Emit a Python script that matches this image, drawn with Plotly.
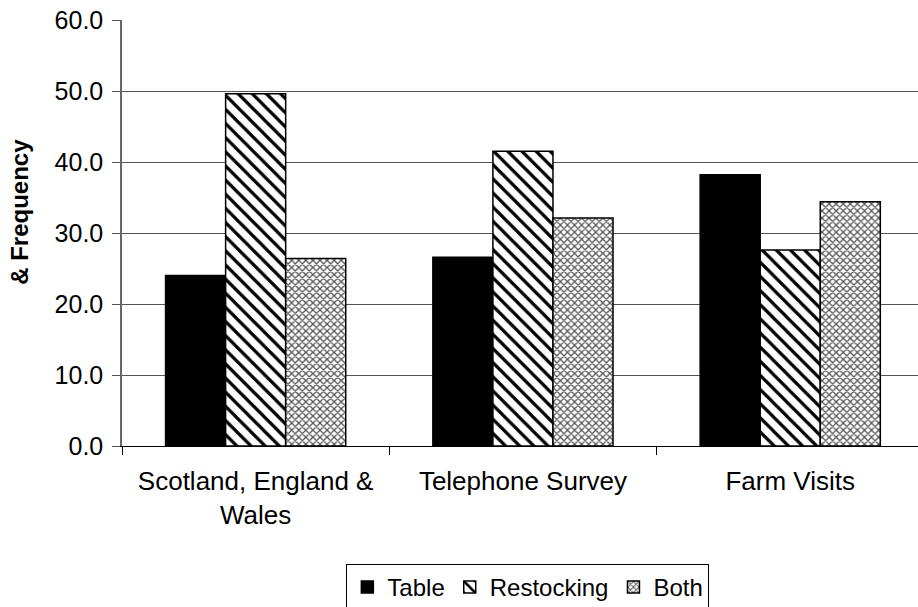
import plotly.graph_objects as go

# Survey source groups
categories = ["Scotland, England &<br>Wales", "Telephone Survey", "Farm Visits"]

# Frequency per purpose
table = [24.0, 26.6, 38.2]
restocking = [49.6, 41.5, 27.6]
both = [26.4, 32.1, 34.4]

y_ticks = [0, 10, 20, 30, 40, 50, 60]

FONT = "Arial, 'Liberation Sans', sans-serif"

fig = go.Figure()

fig.add_trace(go.Bar(
    name="Table", x=categories, y=table,
    marker=dict(color="black", line=dict(color="black", width=1.5)),
))
fig.add_trace(go.Bar(
    name="Restocking", x=categories, y=restocking,
    marker=dict(
        color="white",
        line=dict(color="black", width=1.5),
        pattern=dict(shape="\\", fgcolor="black", bgcolor="white",
                     size=10, solidity=0.32, fillmode="replace"),
    ),
))
fig.add_trace(go.Bar(
    name="Both", x=categories, y=both,
    marker=dict(
        color="white",
        line=dict(color="black", width=1.5),
        pattern=dict(shape="x", fgcolor="#555555", bgcolor="white",
                     size=5, solidity=0.45, fillmode="replace"),
    ),
))

fig.update_layout(
    width=918, height=607,
    margin=dict(l=122, r=0, t=20, b=161),
    paper_bgcolor="white", plot_bgcolor="white",
    font=dict(family=FONT, size=25, color="black"),
    barmode="group", bargap=0.326, bargroupgap=0,
    showlegend=True,
    legend=dict(
        orientation="h",
        xref="container", yref="container",
        x=0.575, xanchor="center", y=1 - 564 / 607, yanchor="top",
        bordercolor="black", borderwidth=1, bgcolor="white",
        font=dict(size=24), itemwidth=30, tracegroupgap=0,
    ),
    annotations=[dict(
        text="<b>& Frequency</b>", textangle=-90,
        xref="paper", yref="paper", x=-0.128, y=0.55,
        xanchor="center", yanchor="middle", showarrow=False,
        font=dict(size=24),
    )],
)

fig.update_xaxes(
    type="category", range=[-0.5, 2.478],
    showgrid=False, showline=True, linecolor="black", linewidth=1,
    ticks="outside", tickson="boundaries", ticklen=8, tickcolor="black",
    tickfont=dict(size=26), ticklabelstandoff=12,
)
fig.update_yaxes(
    range=[0, 60], tickvals=y_ticks, tickformat=".1f",
    showgrid=True, gridcolor="#555555", gridwidth=1,
    showline=True, linecolor="#666666", linewidth=1.5,
    ticks="outside", ticklen=8, tickcolor="#555555",
    tickfont=dict(size=25), ticklabelstandoff=4, zeroline=False,
)

fig.write_html("out.html")
